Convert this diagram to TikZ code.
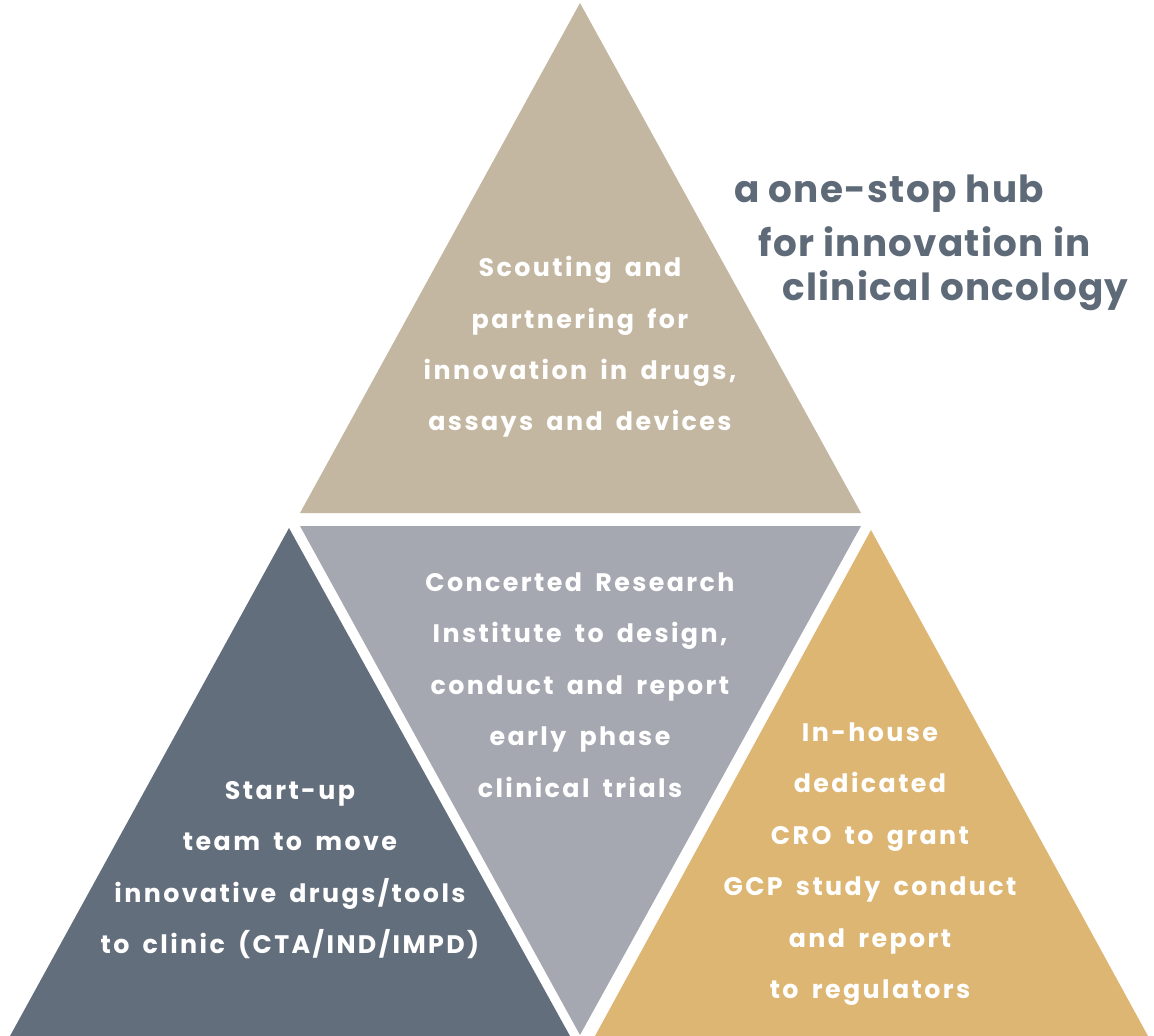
\documentclass[tikz,border=0pt]{standalone}
\usepackage{fontspec}
\setmainfont{Poppins}[LetterSpace=9.5,WordSpace=1.7]
\newfontfamily\titlefont{Poppins}[LetterSpace=3.5]
\usepackage{tikz}

\definecolor{sandtop}{HTML}{C4B7A1}
\definecolor{greymid}{HTML}{A6A8B1}
\definecolor{slateleft}{HTML}{626E7C}
\definecolor{goldright}{HTML}{DDB673}
\definecolor{titlegrey}{HTML}{5E6A78}

\tikzset{
  boxtext/.style={text=white, font=\bfseries\fontsize{19}{38.6}\selectfont, align=center, inner sep=0.75pt},
  titletext/.style={text=titlegrey, font=\titlefont\bfseries\fontsize{28}{36}\selectfont, anchor=west, inner sep=0.75pt}
}

\begin{document}
\begin{tikzpicture}[x=0.75pt,y=0.75pt,yscale=-1,xscale=1]
        \useasboundingbox (0,0) rectangle (1154,1036);
        % four triangles
        \fill [sandtop]   (580,3) -- (861,513) -- (300,513) -- cycle ;
        \fill [greymid]   (300,526) -- (861,526) -- (580,1035) -- cycle ;
        \fill [slateleft] (289,528) -- (570,1036) -- (10,1036) -- cycle ;
        \fill [goldright] (871,530) -- (1148,1036) -- (595,1036) -- cycle ;

        % texts inside
        \node [boxtext] (scout) at (580,347) {Scouting and\\partnering for\\innovation in drugs,\\assays and devices};
        \node [boxtext] (cri) at (580,685) {Concerted Research\\Institute to design,\\conduct and report\\early phase\\clinical trials};
        \node [boxtext] (startup) at (290,870) {Start-up\\team to move\\innovative drugs/tools\\to clinic (CTA/IND/IMPD)};
        \node [boxtext] (cro) at (870,864) {In-house\\dedicated\\CRO to grant\\GCP study conduct\\and report\\to regulators};

        % title
        \node [titletext] (hub1) at (733,194) {a one-stop hub};
        \node [titletext] (hub2) at (757,242) {for innovation in};
        \node [titletext] (hub3) at (781,291) {clinical oncology};
    \end{tikzpicture}
\end{document}
